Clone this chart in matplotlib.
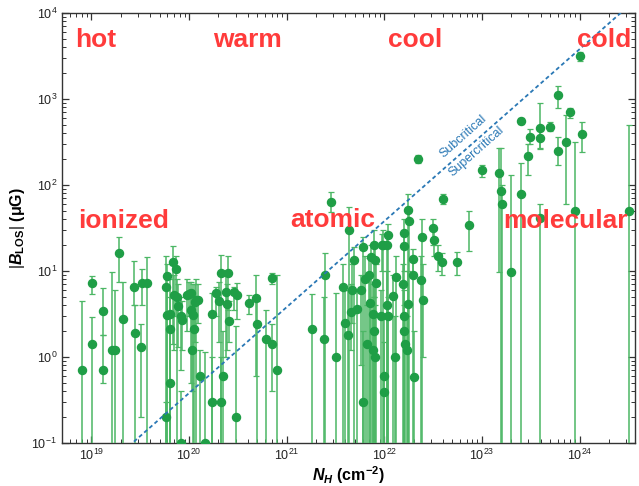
import numpy as np
import matplotlib
matplotlib.use('Agg')
import matplotlib.pyplot as plt

plt.rcParams['font.family'] = ['Liberation Sans', 'DejaVu Sans']
plt.rcParams['mathtext.fontset'] = 'custom'
plt.rcParams['mathtext.rm'] = 'Liberation Sans'
plt.rcParams['mathtext.it'] = 'Liberation Sans:italic:bold'
plt.rcParams['mathtext.bf'] = 'Liberation Sans:bold'

# column density N_H (cm^-2), |B_LOS| (uG) with lower / upper error bounds
# (a lower bound of 0.01 means the bar runs below the axis)
nh = [8.1e18, 1.02e19, 1.02e19, 1.31e19, 1.31e19, 1.61e19, 1.74e19, 1.92e19, 2.11e19, 2.72e19,
      2.83e19, 3.2e19, 3.3e19, 3.75e19, 5.8e19, 5.8e19, 5.9e19, 6.0e19, 6.35e19, 6.45e19,
      6.45e19, 6.9e19, 7.1e19, 7.4e19, 7.5e19, 7.7e19, 8.2e19, 8.4e19, 8.2e19, 9.6e19,
      1.0e20, 1.06e20, 1.04e20, 1.08e20, 1.1e20, 1.12e20, 1.14e20, 1.17e20, 1.24e20, 1.29e20,
      1.45e20, 1.72e20, 1.72e20, 1.87e20, 2.05e20, 2.12e20, 2.12e20, 2.23e20, 2.38e20, 2.45e20,
      2.49e20, 2.55e20, 2.92e20, 3.06e20, 3.08e20, 4.08e20, 4.9e20, 5.0e20, 6.2e20, 7.07e20,
      7.1e20, 7.95e20,
      1.82e21, 2.41e21, 2.49e21, 2.82e21, 3.23e21, 3.8e21, 4.0e21, 4.24e21, 4.31e21, 4.6e21,
      4.66e21, 4.85e21, 5.2e21, 5.8e21, 6.0e21, 6.1e21, 6.3e21, 6.6e21, 7.0e21, 7.2e21,
      7.3e21, 7.6e21, 7.65e21, 7.77e21, 7.95e21, 8.3e21, 8.1e21, 7.9e21, 9.3e21, 9.47e21,
      9.7e21, 1.0e22, 1.0e22, 1.06e22, 1.07e22, 1.09e22, 1.09e22, 1.24e22, 1.3e22, 1.31e22,
      1.56e22, 1.58e22, 1.58e22, 1.61e22, 1.61e22, 1.63e22, 1.7e22, 1.74e22, 1.75e22, 1.8e22,
      1.96e22, 1.98e22, 2.01e22, 2.21e22, 2.39e22, 2.45e22, 2.52e22, 3.14e22, 3.27e22, 3.57e22,
      3.89e22, 4.0e22, 5.6e22, 7.35e22,
      1.0e23, 1.51e23, 1.57e23, 1.6e23, 2.0e23, 2.5e23, 2.52e23, 2.98e23, 3.14e23, 3.98e23,
      3.98e23, 3.98e23, 5.0e23, 6.0e23, 6.0e23, 7.2e23, 8.0e23, 8.9e23, 1.0e24, 1.05e24,
      3.2e24]
b = [0.7, 7.2, 1.4, 3.4, 0.7, 1.2, 1.2, 16, 2.8, 6.6,
     1.9, 1.3, 7.3, 7.2, 6.6, 0.2, 3.05, 8.7, 3.2, 2.1,
     0.5, 12.6, 5.2, 10.5, 5.0, 3.9, 3.0, 2.7, 0.1, 5.3,
     5.4, 5.5, 3.5, 1.2, 3.1, 2.1, 4.4, 4.6, 4.6, 0.6,
     0.1, 3.2, 0.3, 5.5, 4.5, 9.4, 0.3, 0.6, 5.7, 4.1,
     9.6, 2.6, 5.7, 0.2, 5.2, 4.2, 4.8, 2.4, 1.6, 8.2,
     1.4, 0.7,
     2.1, 1.6, 8.9, 64, 1.0, 6.6, 2.5, 1.8, 30, 3.3,
     6.0, 13.3, 3.6, 6.0, 0.3, 19, 8.0, 1.4, 9.0, 4.3,
     14.7, 3.2, 1.2, 2.0, 13.3, 7.2, 1.0, 20, 3.0, 20,
     20, 0.6, 0.39, 4.0, 20, 26, 3.0, 5.1, 1.0, 8.6,
     7.1, 27.5, 2.0, 19.7, 3.0, 1.4, 1.2, 51, 4.1, 38,
     9.0, 13.8, 0.58, 200, 7.8, 24.7, 4.6, 31.6, 23, 14.9,
     12.7, 69, 12.7, 34,
     150, 140, 86, 60, 9.8, 79, 555, 220, 360, 455,
     355, 41, 480, 1110, 250, 315, 711, 50, 3160, 390,
     50]
b_lo = [0.01, 5.4, 0.01, 1.8, 0.5, 0.01, 0.01, 7.4, 0.01, 4.0,
        0.01, 0.2, 4.0, 0.01, 0.01, 0.01, 0.01, 0.01, 0.01, 0.01,
        0.01, 1.4, 1.2, 3.0, 0.01, 1.3, 0.7, 1.2, 0.01, 2.0,
        3.0, 3.5, 0.5, 0.4, 0.01, 0.01, 1.5, 0.01, 2.5, 0.01,
        0.01, 0.01, 0.01, 3.0, 1.5, 0.01, 0.01, 0.01, 1.0, 1.2,
        3.5, 1.5, 3.5, 0.01, 2.8, 3.2, 0.6, 0.01, 0.01, 7.0,
        0.4, 0.01,
        0.01, 0.01, 0.01, 48, 0.01, 0.01, 0.01, 0.01, 0.01, 1.2,
        2.5, 0.01, 0.01, 0.8, 0.01, 0.01, 0.01, 0.01, 0.01, 0.01,
        0.01, 0.01, 0.01, 0.01, 0.01, 0.01, 0.01, 5.0, 0.01, 10,
        0.01, 0.01, 0.01, 0.01, 0.01, 0.01, 0.01, 0.01, 0.01, 0.01,
        0.01, 10, 0.01, 0.01, 0.01, 0.01, 0.01, 0.01, 0.01, 0.01,
        0.01, 9.0, 0.01, 180, 0.01, 0.01, 1.0, 20, 15, 10,
        9.0, 60, 9.0, 17,
        125, 9.8, 0.01, 0.01, 0.01, 0.01, 520, 130, 300, 270,
        260, 0.01, 420, 790, 170, 60, 600, 0.01, 2800, 240,
        0.01]
b_hi = [4.5, 8.8, 2.9, 6.3, 1.8, 9.8, 6.0, 25, 7.5, 13,
        4.0, 2.4, 10.6, 14.5, 15, 0.3, 6.0, 12, 8.0, 5.0,
        2.1, 19.6, 9.0, 15, 8.0, 7.0, 5.0, 4.5, 0.4, 8.0,
        7.5, 7.5, 6.0, 4.0, 7.0, 5.0, 7.0, 8.0, 7.0, 1.2,
        1.15, 5.5, 1.0, 6.5, 7.5, 15.5, 1.0, 2.0, 9.0, 7.0,
        15, 4.5, 6.5, 2.3, 7.2, 5.2, 9.0, 4.5, 3.5, 9.5,
        2.4, 9.0,
        5.4, 5.0, 16, 82, 5.5, 12, 6.0, 6.0, 56, 7.0,
        12, 19, 6.0, 9.0, 2.0, 25, 15, 4.0, 14, 9.0,
        20, 7.0, 3.0, 5.0, 20, 12, 4.0, 30, 6.0, 27,
        30, 3.0, 1.5, 10, 28, 35, 5.0, 9.0, 3.0, 15,
        12, 40, 4.0, 30, 6.0, 3.0, 3.0, 78, 10, 50,
        15, 18, 2.0, 225, 15, 40, 12, 40, 30, 20,
        16, 78, 16.8, 50,
        170, 270, 270, 100, 130, 180, 600, 300, 450, 900,
        450, 60, 540, 1420, 360, 650, 780, 320, 3500, 540,
        500]

nh = np.array(nh)
b = np.array(b)
yerr = [b - np.array(b_lo), np.array(b_hi) - b]

fig = plt.figure(figsize=(6.39, 4.86), dpi=100)
ax = fig.add_axes([0.097, 0.0885, 0.8967, 0.8845])

ax.errorbar(nh, b, yerr=yerr, fmt='o', color='#1f9e46', markersize=5.8,
            ecolor='#4cb765', elinewidth=1.1, capsize=2.5, capthick=0.9, zorder=3)

# critical mass-to-flux line
nline = np.array([1e18, 1e25])
ax.plot(nline, 3.8e-21 * nline, color='#2a78b5', linestyle=(0, (2.2, 1.6)), linewidth=1.3, zorder=4)
ax.text(6.4e22, 363, 'Subcritical', color='#2a78b5', fontsize=9, rotation=41.5,
        ha='center', va='center', rotation_mode='anchor')
ax.text(8.7e22, 244, 'Supercritical', color='#2a78b5', fontsize=9, rotation=41.5,
        ha='center', va='center', rotation_mode='anchor')

ax.set_xscale('log')
ax.set_yscale('log')
ax.set_xlim(5e18, 3.7e24)
ax.set_ylim(0.1, 1e4)

red = '#ff3b3b'
labels = [('hot', 0.023, 0.921), ('warm', 0.2635, 0.921), ('cool', 0.569, 0.921),
          ('cold', 0.899, 0.921), ('ionized', 0.028, 0.5), ('atomic', 0.398, 0.503),
          ('molecular', 0.7696, 0.5)]
for txt, xa, ya in labels:
    ax.text(xa, ya, txt, transform=ax.transAxes, color=red, fontsize=19,
            fontweight='bold', ha='left', va='baseline', zorder=5)

ax.tick_params(which='both', direction='in', top=True, right=True, colors='#333333',
               labelsize=9, labelcolor='#222222')
ax.tick_params(which='major', length=5, width=0.9)
ax.tick_params(which='minor', length=3, width=0.7)
for sp in ax.spines.values():
    sp.set_color('#333333')
    sp.set_linewidth(1.0)

ax.set_xlabel(r'$N_H$ (cm$^{\mathbf{-2}}$)', fontsize=11.5, fontweight='bold', labelpad=1)
ax.set_ylabel(r'$|B_{\mathbf{LOS}}|$ ($\mathbf{\mu}$G)', fontsize=11.5, fontweight='bold', labelpad=3)

fig.savefig('out.png', dpi=100)
